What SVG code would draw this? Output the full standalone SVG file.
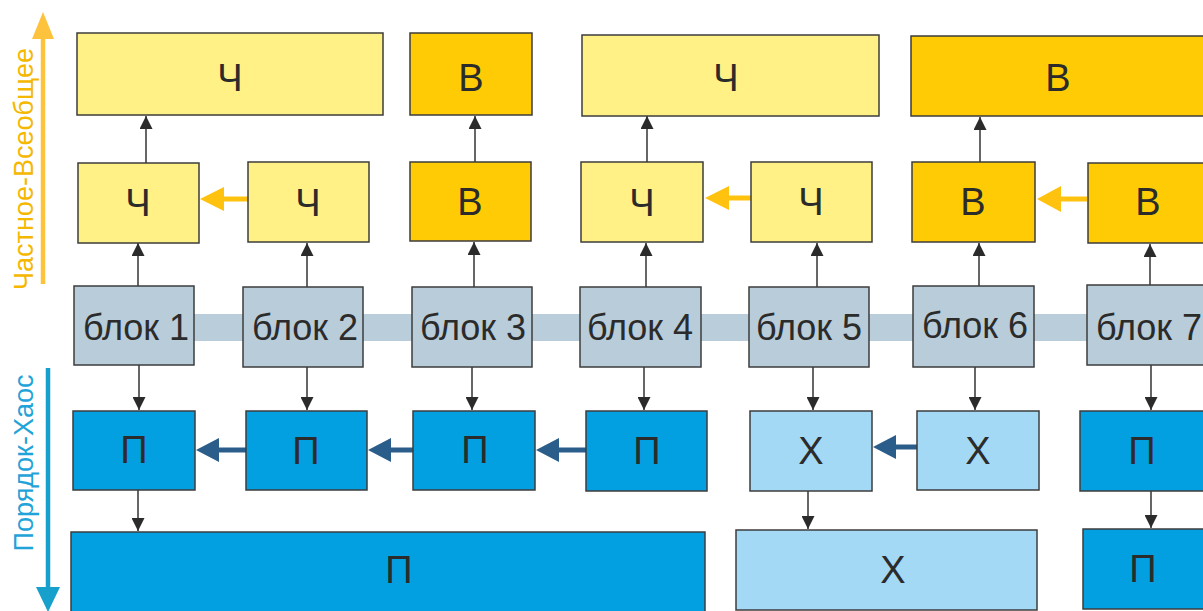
<svg xmlns="http://www.w3.org/2000/svg" width="1203" height="611" viewBox="0 0 1203 611">
<defs>
<style>
.box{stroke:#3d3d3d;stroke-width:1.5}
.ch{fill:#fff185}
.vs{fill:#ffcb05}
.bl{fill:#b8ccd9}
.po{fill:#02a0e0}
.xa{fill:#a3d9f5}
.t{font-family:"Liberation Sans",Arial,sans-serif;font-size:36px;fill:#2b2b2b;text-anchor:middle}
.l{font-size:38px}
.c{stroke:#333;stroke-width:1.5;fill:none}
.ya{stroke:#ffc20e;stroke-width:5;fill:none}
.ba{stroke:#2a5d8a;stroke-width:5;fill:none}
</style>
<marker id="ah" viewBox="0 0 10 10" refX="10" refY="5" markerWidth="13" markerHeight="13" markerUnits="userSpaceOnUse" orient="auto"><path d="M0,0 L10,5 L0,10 Z" fill="#2b2b2b"/></marker>
</defs>
<rect width="1203" height="611" fill="#ffffff"/>
<g id="axes">
<line x1="43" y1="284" x2="43" y2="36" stroke="#fdc33c" stroke-width="4.5"/>
<polygon points="43,12 32,39 54,39" fill="#fdc33c"/>
<text transform="translate(33,169) rotate(-90)" font-family="Liberation Sans,Arial,sans-serif" font-size="27" fill="#f5b800" text-anchor="middle" textLength="242" lengthAdjust="spacingAndGlyphs">Частное-Всеобщее</text>
<line x1="48" y1="368" x2="48" y2="590" stroke="#17a0cc" stroke-width="4.5"/>
<polygon points="48,612 36,587 60,587" fill="#17a0cc"/>
<text transform="translate(33,463) rotate(-90)" font-family="Liberation Sans,Arial,sans-serif" font-size="27" fill="#1fa3d8" text-anchor="middle" textLength="177" lengthAdjust="spacingAndGlyphs">Порядок-Хаос</text>
</g>
<rect id="band" x="120" y="314" width="1090" height="27" fill="#b9cdda"/>
<g id="connectors">
<line class="c" x1="146" y1="163" x2="146" y2="116" marker-end="url(#ah)"/>
<line class="c" x1="475" y1="162" x2="475" y2="116" marker-end="url(#ah)"/>
<line class="c" x1="647" y1="162" x2="647" y2="116" marker-end="url(#ah)"/>
<line class="c" x1="980" y1="162" x2="980" y2="117" marker-end="url(#ah)"/>
<line class="c" x1="138" y1="286" x2="138" y2="243" marker-end="url(#ah)"/>
<line class="c" x1="307" y1="287" x2="307" y2="243" marker-end="url(#ah)"/>
<line class="c" x1="474" y1="287" x2="474" y2="242" marker-end="url(#ah)"/>
<line class="c" x1="646" y1="287" x2="646" y2="243" marker-end="url(#ah)"/>
<line class="c" x1="817" y1="287" x2="817" y2="243" marker-end="url(#ah)"/>
<line class="c" x1="979" y1="286" x2="979" y2="243" marker-end="url(#ah)"/>
<line class="c" x1="1150" y1="285" x2="1150" y2="244" marker-end="url(#ah)"/>
<line class="c" x1="139" y1="365" x2="139" y2="410" marker-end="url(#ah)"/>
<line class="c" x1="307" y1="367" x2="307" y2="410" marker-end="url(#ah)"/>
<line class="c" x1="472" y1="367" x2="472" y2="410" marker-end="url(#ah)"/>
<line class="c" x1="644" y1="367" x2="644" y2="410" marker-end="url(#ah)"/>
<line class="c" x1="813" y1="367" x2="813" y2="410" marker-end="url(#ah)"/>
<line class="c" x1="975" y1="367" x2="975" y2="410" marker-end="url(#ah)"/>
<line class="c" x1="1151" y1="365" x2="1151" y2="410" marker-end="url(#ah)"/>
<line class="c" x1="138" y1="490" x2="138" y2="531" marker-end="url(#ah)"/>
<line class="c" x1="808" y1="490" x2="808" y2="529" marker-end="url(#ah)"/>
<line class="c" x1="1151" y1="491" x2="1151" y2="528" marker-end="url(#ah)"/>
<line class="ya" x1="248" y1="199" x2="220" y2="199"/>
<polygon points="200,199 224,187 224,211" fill="#ffc20e"/>
<line class="ya" x1="751" y1="198" x2="725" y2="198"/>
<polygon points="705,198 729,186 729,210" fill="#ffc20e"/>
<line class="ya" x1="1087" y1="199" x2="1058" y2="199"/>
<polygon points="1037,199 1061,186 1061,212" fill="#ffc20e"/>
<line class="ba" x1="246" y1="450" x2="215" y2="450"/>
<polygon points="196,450 219,438 219,462" fill="#2a5d8a"/>
<line class="ba" x1="413" y1="450" x2="387" y2="450"/>
<polygon points="368,450 391,438 391,462" fill="#2a5d8a"/>
<line class="ba" x1="586" y1="450" x2="555" y2="450"/>
<polygon points="536,450 559,438 559,462" fill="#2a5d8a"/>
<line class="ba" x1="917" y1="447" x2="892" y2="447"/>
<polygon points="873,447 896,435 896,459" fill="#2a5d8a"/>
</g>
<g id="r1-ch1"><rect class="box ch" x="77" y="33" width="306" height="82"/><text class="t l" x="230" y="91">Ч</text></g>
<g id="r1-vs1"><rect class="box vs" x="410" y="33" width="122" height="82"/><text class="t l" x="471" y="91">В</text></g>
<g id="r1-ch2"><rect class="box ch" x="582" y="35" width="297" height="81"/><text class="t l" x="726" y="91">Ч</text></g>
<g id="r1-vs2"><rect class="box vs" x="911" y="36" width="300" height="80"/><text class="t l" x="1058" y="91">В</text></g>

<g id="r2-ch1"><rect class="box ch" x="78" y="163" width="121" height="80"/><text class="t l" x="138" y="216">Ч</text></g>
<g id="r2-ch2"><rect class="box ch" x="248" y="162" width="121" height="80"/><text class="t l" x="308" y="216">Ч</text></g>
<g id="r2-vs3"><rect class="box vs" x="410" y="162" width="121" height="79"/><text class="t l" x="470" y="215">В</text></g>
<g id="r2-ch4"><rect class="box ch" x="581" y="162" width="122" height="80"/><text class="t l" x="642" y="216">Ч</text></g>
<g id="r2-ch5"><rect class="box ch" x="751" y="162" width="121" height="80"/><text class="t l" x="811" y="215">Ч</text></g>
<g id="r2-vs6"><rect class="box vs" x="912" y="162" width="123" height="80"/><text class="t l" x="973" y="215">В</text></g>
<g id="r2-vs7"><rect class="box vs" x="1088" y="163" width="125" height="80"/><text class="t l" x="1148" y="215">В</text></g>

<g id="b1"><rect class="box bl" x="74" y="286" width="120" height="79"/><text class="t" x="136" y="340">блок 1</text></g>
<g id="b2"><rect class="box bl" x="243" y="287" width="120" height="80"/><text class="t" x="305" y="340">блок 2</text></g>
<g id="b3"><rect class="box bl" x="412" y="287" width="120" height="80"/><text class="t" x="473" y="340">блок 3</text></g>
<g id="b4"><rect class="box bl" x="580" y="287" width="121" height="80"/><text class="t" x="640" y="340">блок 4</text></g>
<g id="b5"><rect class="box bl" x="749" y="287" width="120" height="80"/><text class="t" x="809" y="340">блок 5</text></g>
<g id="b6"><rect class="box bl" x="913" y="286" width="121" height="81"/><text class="t" x="975" y="338">блок 6</text></g>
<g id="b7"><rect class="box bl" x="1087" y="285" width="125" height="80"/><text class="t" x="1149" y="340">блок 7</text></g>

<g id="r4-p1"><rect class="box po" x="73" y="411" width="122" height="79"/><text class="t l" x="134" y="463">П</text></g>
<g id="r4-p2"><rect class="box po" x="246" y="411" width="121" height="79"/><text class="t l" x="306" y="464">П</text></g>
<g id="r4-p3"><rect class="box po" x="413" y="411" width="122" height="79"/><text class="t l" x="475" y="463">П</text></g>
<g id="r4-p4"><rect class="box po" x="586" y="411" width="121" height="80"/><text class="t l" x="647" y="464">П</text></g>
<g id="r4-x5"><rect class="box xa" x="750" y="411" width="122" height="80"/><text class="t l" x="811" y="464">Х</text></g>
<g id="r4-x6"><rect class="box xa" x="917" y="411" width="122" height="79"/><text class="t l" x="978" y="464">Х</text></g>
<g id="r4-p7"><rect class="box po" x="1080" y="411" width="130" height="80"/><text class="t l" x="1142" y="464">П</text></g>

<g id="r5-p"><rect class="box po" x="71" y="532" width="634" height="80"/><text class="t l" x="399" y="583">П</text></g>
<g id="r5-x"><rect class="box xa" x="736" y="530" width="301" height="80"/><text class="t l" x="893" y="583">Х</text></g>
<g id="r5-p7"><rect class="box po" x="1083" y="529" width="127" height="80"/><text class="t l" x="1143" y="582">П</text></g>
</svg>
